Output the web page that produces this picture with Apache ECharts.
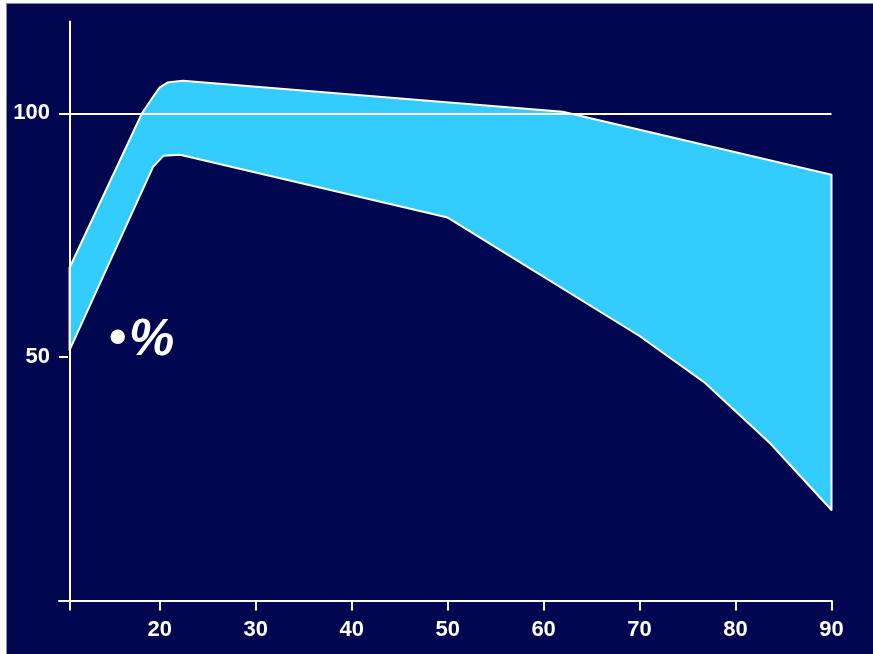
<!DOCTYPE html>
<html>
<head>
<meta charset="utf-8">
<script src="https://cdn.jsdelivr.net/npm/echarts@6/dist/echarts.min.js"></script>
<style>
  html, body { margin: 0; padding: 0; background: #ffffff; }
  #chart { width: 873px; height: 654px; }
</style>
</head>
<body>
<div id="chart"></div>
<script>
// ---- data ----
var upperX = [10.6, 18.15, 19.3, 20.0, 20.8, 22.4, 62.0, 90];
var upperY = [68.3, 100, 103.4, 105.3, 106.3, 106.7, 100.3, 87.4];
var lowerX = [10.6, 19.3, 20.4, 22.1, 50, 70, 76.8, 83.6, 90];
var lowerY = [51.4, 89.0, 91.3, 91.5, 78.6, 54.3, 44.7, 32.3, 18.6];
var xTickLabels = [20, 30, 40, 50, 60, 70, 80, 90];
var yTickLabels = [50, 100];
var yAxisAt = 10.6;      // x value where the vertical axis stands
var referenceLevel = 100; // horizontal reference line
var annotationBullet = '•';
var annotationText = '%';

var chart = echarts.init(document.getElementById('chart'), null, { renderer: 'canvas' });

var labelFont = {
  color: '#ffffff',
  fontSize: 22,
  fontWeight: 'bold',
  fontFamily: 'Liberation Sans, Arial, sans-serif'
};

var option = {
  animation: false,
  backgroundColor: '#000650',
  grid: { left: 59, right: 41.5, top: 20.7, bottom: 53.4, containLabel: false },
  xAxis: {
    type: 'value',
    min: 9.5,
    max: 90,
    splitLine: { show: false },
    axisLine: { show: true, onZero: false, lineStyle: { color: '#ffffff', width: 2 } },
    axisTick: {
      show: true, length: 10, inside: false,
      customValues: [yAxisAt].concat(xTickLabels),
      lineStyle: { color: '#ffffff', width: 2 }
    },
    axisLabel: Object.assign({ margin: 18, customValues: xTickLabels }, labelFont)
  },
  yAxis: {
    type: 'value',
    min: 0,
    max: 119,
    splitLine: { show: false },
    axisLine: { show: false },
    axisTick: {
      show: true, length: 9, inside: true,
      customValues: yTickLabels,
      lineStyle: { color: '#ffffff', width: 2 }
    },
    axisLabel: Object.assign({ margin: 9, customValues: yTickLabels }, labelFont)
  },
  graphic: [
    { type: 'rect', left: 0, top: 0, shape: { width: 6, height: 654 }, style: { fill: '#ffffff' }, z: 100 },
    { type: 'rect', left: 6, top: 0, shape: { width: 1, height: 654 }, style: { fill: '#8a8ab0' }, z: 100 },
    { type: 'rect', left: 0, top: 0, shape: { width: 873, height: 3 }, style: { fill: '#ffffff' }, z: 100 },
    { type: 'rect', left: 7, top: 3, shape: { width: 866, height: 1 }, style: { fill: '#8a8ab0' }, z: 100 },
    {
      type: 'text', left: 109, top: 314, z: 50,
      style: {
        text: annotationBullet,
        fill: '#ffffff',
        font: 'bold 50px "Liberation Sans", Arial, sans-serif'
      }
    },
    {
      type: 'text', left: 129, top: 315, z: 50,
      style: {
        text: annotationText,
        fill: '#ffffff',
        font: 'italic bold 51px "Liberation Sans", Arial, sans-serif'
      }
    }
  ],
  series: [
    {
      type: 'custom',
      silent: true,
      clip: false,
      data: [[0, 0]],
      renderItem: function (params, api) {
        var pts = [];
        for (var i = 0; i < upperX.length; i++) pts.push(api.coord([upperX[i], upperY[i]]));
        for (var j = lowerX.length - 1; j >= 0; j--) pts.push(api.coord([lowerX[j], lowerY[j]]));
        return {
          type: 'polygon',
          shape: { points: pts },
          style: { fill: '#33CCFF', stroke: '#ffffff', lineWidth: 2, lineJoin: 'round' }
        };
      },
      markLine: {
        silent: true,
        symbol: 'none',
        label: { show: false },
        lineStyle: { color: '#ffffff', width: 2, type: 'solid' },
        data: [
          { yAxis: referenceLevel },
          { xAxis: yAxisAt }
        ]
      }
    }
  ]
};
chart.setOption(option);
</script>
</body>
</html>
